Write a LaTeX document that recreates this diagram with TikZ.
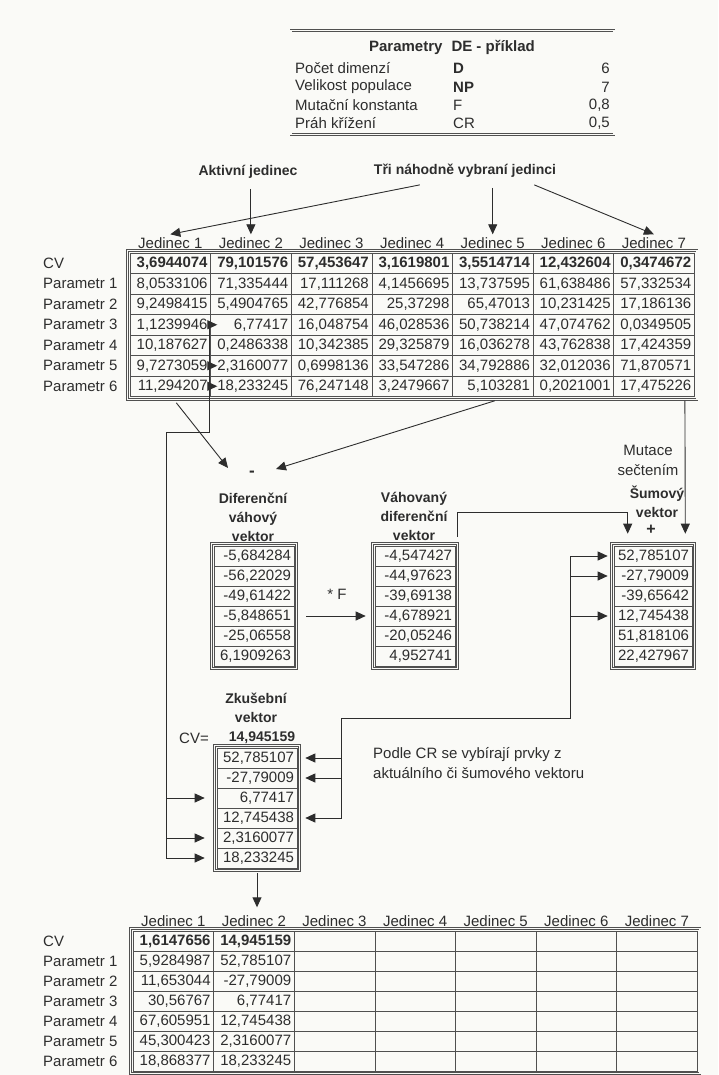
\documentclass[tikz,border=0pt]{standalone}
\usepackage{fontspec}
\setmainfont{Liberation Sans}
\usetikzlibrary{arrows.meta,calc}
\definecolor{ink}{RGB}{45,45,45}
\definecolor{gridc}{RGB}{80,80,80}
\definecolor{paper}{RGB}{250,250,247}
\tikzset{
  base/.style={text=ink, inner sep=0pt, font=\fontsize{15}{20}\selectfont},
  lab/.style={base, anchor=west},
  hd/.style={base, align=center, font=\fontsize{14}{19}\selectfont\bfseries},
  cellbox/.style={draw=gridc, line width=0.6pt, minimum height=20.5pt, text width=74.6pt, align=right, inner xsep=3pt, inner ysep=0pt, text=ink, font=\fontsize{15}{16}\selectfont},
  vcell/.style={cellbox, minimum height=20pt, text width=74pt},
  frame/.style={draw=gridc, double=paper, double distance=1.1pt, line width=0.8pt},
  conn/.style={draw=ink, line width=0.9pt, -{Triangle[length=10pt,width=9pt]}},
  wire/.style={draw=ink, line width=0.9pt},
  boldcell/.style={font=\fontsize{15}{16}\selectfont\bfseries},
}
\newcommand\mytabrow[5]{%
  \foreach \val [count=\col] in {#4} {
    \node[cellbox,#5] (#1-#2-\col) at ({\tabx+80.6*(\col-0.5)}, #3) {\val};
  }}
\begin{document}
\begin{tikzpicture}[x=1pt,y=-1pt]
\fill[paper] (0,0) rectangle (718,1075);
\path[use as bounding box] (0,0) rectangle (718,1075);

% ---------- parameter box contents
\node[hd,font=\fontsize{15}{19}\selectfont\bfseries] (ptitle) at (452,47) {Parametry\hspace{0.6em}DE - příklad};
\node[lab] (pl1) at (295,68) {Počet dimenzí};
\node[lab] (pl2) at (295,87) {Velikost populace};
\node[lab] (pl3) at (295,105) {Mutační konstanta};
\node[lab] (pl4) at (295,123) {Práh křížení};
\node[lab,font=\fontsize{15}{16}\selectfont\bfseries] (ps1) at (453,68) {D};
\node[lab,font=\fontsize{15}{16}\selectfont\bfseries] (ps2) at (453,87) {NP};
\node[lab] (ps3) at (453,105) {F};
\node[lab] (ps4) at (453,123) {CR};
\node[base,anchor=east] (pv1) at (610,68) {6};
\node[base,anchor=east] (pv2) at (610,87) {7};
\node[base,anchor=east] (pv3) at (610,105) {0,8};
\node[base,anchor=east] (pv4) at (610,123) {0,5};

% ---------- top labels
\node[hd] (akt) at (248,172) {Aktivní jedinec};
\node[hd] (tri) at (465,171) {Tři náhodně vybraní jedinci};

% ---------- top table
\def\tabx{130}
\foreach \col in {1,...,7}
  \node[base] (TH-\col) at ({130+80.6*(\col-0.5)},243) {Jedinec \col};
\mytabrow{T}{0}{263.25}{{3,6944074},{79,101576},{57,453647},{3,1619801},{3,5514714},{12,432604},{0,3474672}}{boldcell}
\mytabrow{T}{1}{283.75}{{8,0533106},{71,335444},{17,111268},{4,1456695},{13,737595},{61,638486},{57,332534}}{}
\mytabrow{T}{2}{304.25}{{9,2498415},{5,4904765},{42,776854},{25,37298},{65,47013},{10,231425},{17,186136}}{}
\mytabrow{T}{3}{324.75}{{1,1239946},{6,77417},{16,048754},{46,028536},{50,738214},{47,074762},{0,0349505}}{}
\mytabrow{T}{4}{345.25}{{10,187627},{0,2486338},{10,342385},{29,325879},{16,036278},{43,762838},{17,424359}}{}
\mytabrow{T}{5}{365.75}{{9,7273059},{2,3160077},{0,6998136},{33,547286},{34,792886},{32,012036},{71,870571}}{}
\mytabrow{T}{6}{386.25}{{11,294207},{18,233245},{76,247148},{3,2479667},{5,103281},{0,2021001},{17,475226}}{}
\draw[frame] ($(T-0-1.north west)+(-2.5,-2.5)$) rectangle ($(T-6-7.south east)+(2.5,2.5)$);
\node[lab] (TL0) at (43,263.25) {CV};
\node[lab] (TL1) at (43,283.75) {Parametr 1};
\node[lab] (TL2) at (43,304.25) {Parametr 2};
\node[lab] (TL3) at (43,324.75) {Parametr 3};
\node[lab] (TL4) at (43,345.25) {Parametr 4};
\node[lab] (TL5) at (43,365.75) {Parametr 5};
\node[lab] (TL6) at (43,386.25) {Parametr 6};

% ---------- arrows into top table
\draw[conn] ($(akt.south -| TH-2.north)+(0,10)$) -- ($(TH-2.north)+(0,-3)$);
\draw[conn] ($(tri.south west)+(46,7)$) -- ($(TH-1.north)+(0,-3)$);
\draw[conn] ($(tri.south -| TH-5.north)+(0,10)$) -- ($(TH-5.north)+(0,-3)$);
\draw[conn] ($(tri.south east)+(-22,7)$) -- ($(TH-7.north)+(0,-3)$);

% ---------- difference
\node[hd,font=\fontsize{17}{17}\selectfont\bfseries] (minus) at (252,474) {-};
\draw[conn] ($(T-6-1.south)+(6,6)$) -- ($(minus)+(-24,-6)$);
\draw[conn] ($(T-6-5.south)+(2,4)$) -- ($(minus)+(24,-5)$);

\node[hd] (dlab) at (253,517) {Diferenční\\váhový\\vektor};
\foreach \val [count=\k] in {{-5,684284},{-56,22029},{-49,61422},{-5,848651},{-25,06558},{6,1909263}}
  \node[vcell] (D-\k) at (254,{536+20*\k}) {\val};
\draw[frame] ($(D-1.north west)+(-2.5,-2.5)$) rectangle ($(D-6.south east)+(2.5,2.5)$);

\node[hd] (vlab) at (414,516) {Váhovaný\\diferenční\\vektor};
\foreach \val [count=\k] in {{-4,547427},{-44,97623},{-39,69138},{-4,678921},{-20,05246},{4,952741}}
  \node[vcell] (V-\k) at (415,{536+20*\k}) {\val};
\draw[frame] ($(V-1.north west)+(-2.5,-2.5)$) rectangle ($(V-6.south east)+(2.5,2.5)$);

\node[base] (mulf) at (337,594) {* F};
\draw[conn] ([xshift=12pt]D-4.east) -- ([xshift=-9pt]V-4.west);

% ---------- noise vector
\node[base,align=center] (mut) at (648,460) {Mutace\\sečtením};
\node[hd] (slab) at (657,502) {Šumový\\vektor};
\node[hd,font=\fontsize{16}{16}\selectfont\bfseries] (plus) at (651,530) {+};
\foreach \val [count=\k] in {{52,785107},{-27,79009},{-39,65642},{12,745438},{51,818106},{22,427967}}
  \node[vcell,text width=72pt] (S-\k) at (653,{536+20*\k}) {\val};
\draw[frame] ($(S-1.north west)+(-2.5,-2.5)$) rectangle ($(S-6.south east)+(2.5,2.5)$);

\coordinate (VS0) at ($(V-1.north east)+(2.5,-9)$);
\coordinate (VS1) at ($(S-1.north west)+(14,-33)$);
\draw[conn] (VS0) |- (VS1) -- ($(S-1.north west)+(14,-12)$);
\draw[conn] ($(T-6-7.south)+(31,4)$) -- ($(S-1.north east)+(-7,-12)$);

% ---------- trial vector
\node[hd] (zlab) at (256,708) {Zkušební\\vektor};
\node[base] (zcvl) at (194,738) {CV=};
\node[hd] (zcv) at (262,738) {14,945159};
\foreach \val [count=\k] in {{52,785107},{-27,79009},{6,77417},{12,745438},{2,3160077},{18,233245}}
  \node[vcell] (Z-\k) at (257,{738+20*\k}) {\val};
\draw[frame] ($(Z-1.north west)+(-2.5,-2.5)$) rectangle ($(Z-6.south east)+(2.5,2.5)$);

\node[base,anchor=west,align=left] (note) at (373,763) {Podle CR se vybírají prvky z\\aktuálního či šumového vektoru};

% left connector (active individual -> trial)
\coordinate (L1) at ($(T-3-1.east)+(-1.5,0)$);
\coordinate (L2) at ($(T-3-1.east)+(-1.5,108)$);
\coordinate (L3) at ($(L2)+(-43,0)$);
\draw[wire] (L1) -- (L2) -- (L3) -- (L3 |- Z-6.west);
\draw[conn] (L1) -- ([xshift=7pt]T-3-2.west);
\draw[conn] (L1 |- T-5-2.west) -- ([xshift=7pt]T-5-2.west);
\draw[conn] (L1 |- T-6-2.west) -- ([xshift=7pt]T-6-2.west);
\draw[conn] (L3 |- Z-3.west) -- ([xshift=-12pt]Z-3.west);
\draw[conn] (L3 |- Z-5.west) -- ([xshift=-12pt]Z-5.west);
\draw[conn] (L3 |- Z-6.west) -- ([xshift=-12pt]Z-6.west);

% right connector (noise -> trial)
\coordinate (R1) at ($(S-1.west)+(-43,0)$);
\coordinate (R2) at ($(R1)+(0,162)$);
\coordinate (R3) at ($(R2)+(-229,0)$);
\draw[wire] (R1) -- (R2) -- (R3) -- (R3 |- Z-4.east);
\draw[conn] (R1) -- ([xshift=-6pt]S-1.west);
\draw[conn] (R1 |- S-2.west) -- ([xshift=-6pt]S-2.west);
\draw[conn] (R1 |- S-4.west) -- ([xshift=-6pt]S-4.west);
\draw[conn] (R3 |- Z-1.east) -- ([xshift=8pt]Z-1.east);
\draw[conn] (R3 |- Z-2.east) -- ([xshift=8pt]Z-2.east);
\draw[conn] (R3 |- Z-4.east) -- ([xshift=8pt]Z-4.east);

% down to new population
\coordinate (zd) at ($(Z-6.south)+(0,39)$);
\draw[conn] ($(Z-6.south)+(0,5)$) -- (zd);

% ---------- bottom table
\def\tabx{133}
\foreach \col in {1,...,7}
  \node[base] (BH-\col) at ({133+80.6*(\col-0.5)},921) {Jedinec \col};
\mytabrow{B}{0}{941}{{1,6147656},{14,945159},{\relax},{\relax},{\relax},{\relax},{\relax}}{boldcell,minimum height=20pt}
\mytabrow{B}{1}{961}{{5,9284987},{52,785107},{\relax},{\relax},{\relax},{\relax},{\relax}}{minimum height=20pt}
\mytabrow{B}{2}{981}{{11,653044},{-27,79009},{\relax},{\relax},{\relax},{\relax},{\relax}}{minimum height=20pt}
\mytabrow{B}{3}{1001}{{30,56767},{6,77417},{\relax},{\relax},{\relax},{\relax},{\relax}}{minimum height=20pt}
\mytabrow{B}{4}{1021}{{67,605951},{12,745438},{\relax},{\relax},{\relax},{\relax},{\relax}}{minimum height=20pt}
\mytabrow{B}{5}{1041}{{45,300423},{2,3160077},{\relax},{\relax},{\relax},{\relax},{\relax}}{minimum height=20pt}
\mytabrow{B}{6}{1061}{{18,868377},{18,233245},{\relax},{\relax},{\relax},{\relax},{\relax}}{minimum height=20pt}
\draw[frame] ($(B-0-1.north west)+(-2.5,-2.5)$) rectangle ($(B-6-7.south east)+(2.5,2.5)$);
\node[lab] (BL0) at (43,941) {CV};
\node[lab] (BL1) at (43,961) {Parametr 1};
\node[lab] (BL2) at (43,981) {Parametr 2};
\node[lab] (BL3) at (43,1001) {Parametr 3};
\node[lab] (BL4) at (43,1021) {Parametr 4};
\node[lab] (BL5) at (43,1041) {Parametr 5};
\node[lab] (BL6) at (43,1061) {Parametr 6};

% ---------- parameter box frame (drawn last, from its texts)
\coordinate (pbA) at ($(pl1.west |- ptitle.north)+(-4,-9)$);
\coordinate (pbB) at ($(pv4.south east)+(4,5)$);
\draw[frame] (pbA) -- (pbA -| pbB) -- (pbB) -- (pbA |- pbB) -- cycle;
\end{tikzpicture}
\end{document}
